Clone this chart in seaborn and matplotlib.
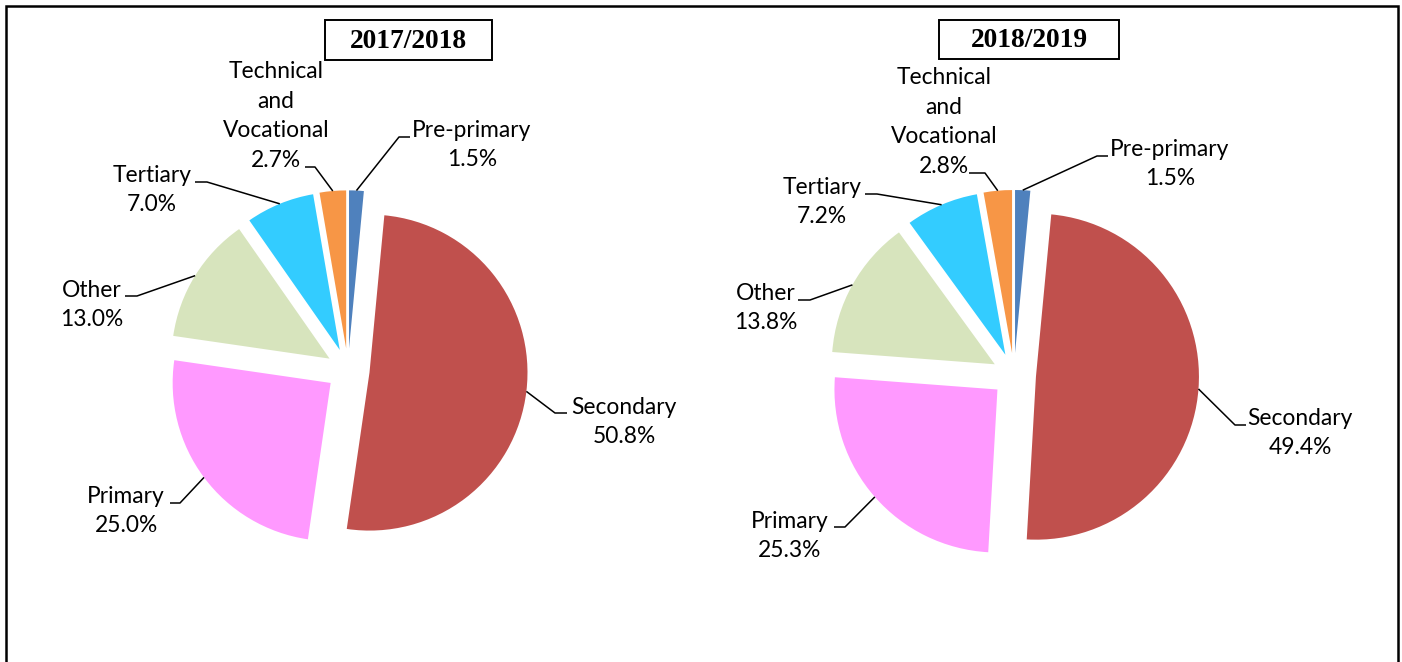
import numpy as np
import matplotlib
matplotlib.use("Agg")
import matplotlib.pyplot as plt
import seaborn as sns
from matplotlib.patches import Rectangle

# ---- data ----
categories = ["Pre-primary", "Secondary", "Primary", "Other", "Tertiary",
              "Technical\nand\nVocational"]
values_2017 = [1.5, 50.8, 25.0, 13.0, 7.0, 2.7]
values_2018 = [1.5, 49.4, 25.3, 13.8, 7.2, 2.8]
titles = ["2017/2018", "2018/2019"]
colors = ["#4F81BD", "#C0504D", "#FF99FF", "#D7E4BD", "#33CCFF", "#F79646"]

# ---- layout (pixels, origin top-left) ----
W, H = 1402, 662
pies = [
    dict(center=(348, 370), R=158, explode=0.137,
         # text center (x, y), horizontal leader segment (x_text_side, x_elbow, y)
         labels=[((472, 145), (410, 399, 137)),
                 ((624, 422), (567, 555, 413)),
                 ((126, 511), (170, 180, 503)),
                 ((92, 305), (125, 137, 296)),
                 ((152, 190), (195, 207, 182)),
                 ((276, 116), (305, 315, 167))],
         box=(325, 20, 492, 60)),
    dict(center=(1014, 375), R=163, explode=0.135,
         labels=[((1170, 164), (1108, 1097, 156)),
                 ((1300, 433), (1246, 1235, 425)),
                 ((790, 536), (834, 845, 527)),
                 ((766, 308), (798, 810, 300)),
                 ((822, 202), (865, 877, 194)),
                 ((944, 122), (969, 985, 173))],
         box=(939, 20, 1119, 59)),
]

sns.set_theme(style="white")
plt.rcParams['font.family'] = ['Lato', 'DejaVu Sans']

fig = plt.figure(figsize=(W / 100, H / 100), dpi=100)
fig.patch.set_facecolor("white")

FS = 16.4

for vals, title, spec in zip([values_2017, values_2018], titles, pies):
    cx, cy = spec["center"]
    R = spec["R"]
    S = 640
    ax = fig.add_axes([(cx - S / 2) / W, (H - cy - S / 2) / H, S / W, S / H])
    wedges, _ = ax.pie(vals, colors=colors, startangle=90, counterclock=False,
                       explode=[spec["explode"]] * len(vals), radius=1.0,
                       wedgeprops=dict(linewidth=0))
    lim = S / 2 / R
    ax.set_xlim(-lim, lim)
    ax.set_ylim(-lim, lim)
    ax.set_aspect("equal")
    ax.axis("off")

    def p2d(px, py):
        return (px - cx) / R, -(py - cy) / R

    for w, cat, v, ((tx, ty), (xs, xe, ly)) in zip(wedges, categories, vals, spec["labels"]):
        th = np.deg2rad((w.theta1 + w.theta2) / 2)
        ax_, ay_ = w.center
        anchor = (ax_ + w.r * np.cos(th), ay_ + w.r * np.sin(th))
        e = p2d(xe, ly)
        s = p2d(xs, ly)
        ax.plot([anchor[0], e[0], s[0]], [anchor[1], e[1], s[1]],
                color="black", lw=1.1, solid_capstyle="butt", clip_on=False)
        tpos = p2d(tx, ty)
        ax.text(tpos[0], tpos[1], f"{cat}\n{v:.1f}%", ha="center", va="center",
                fontsize=FS, linespacing=1.5, color="black")

    x0, y0, x1, y1 = spec["box"]
    fig.patches.append(Rectangle((x0 / W, 1 - y1 / H), (x1 - x0) / W, (y1 - y0) / H,
                                 transform=fig.transFigure, fill=False,
                                 edgecolor="black", lw=1.4))
    fig.text((x0 + x1) / 2 / W, 1 - (y0 + y1) / 2 / H - 0.002, title, ha="center", va="center",
             fontsize=19.8, fontweight="bold", family="Liberation Serif", color="black")

# outer border (bottom edge runs past the image)
fig.patches.append(Rectangle((6 / W, -0.1), 1392 / W, 1.1 - 6 / H,
                             transform=fig.transFigure, fill=False,
                             edgecolor="black", lw=1.8))

fig.savefig("out.png", dpi=100, facecolor="white")
